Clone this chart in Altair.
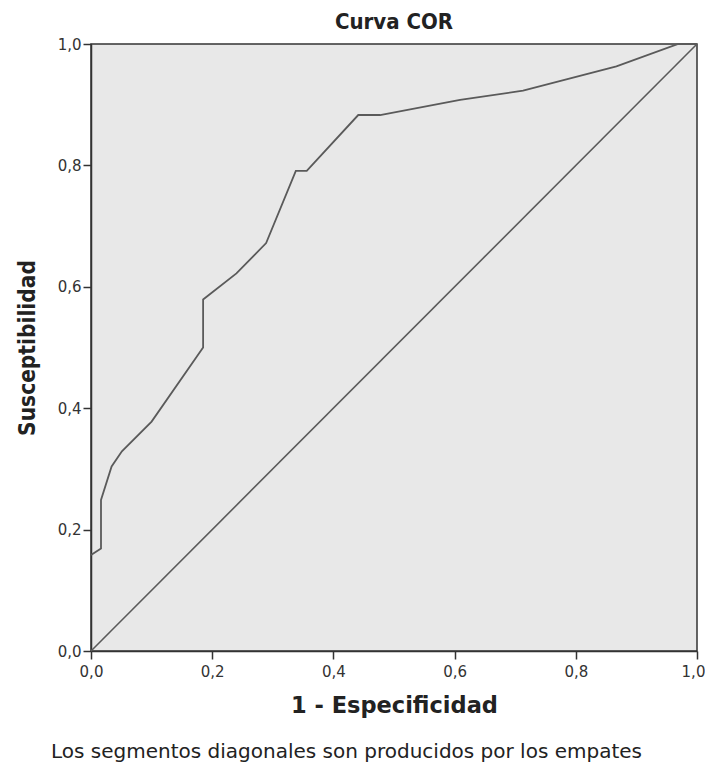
import altair as alt
import pandas as pd

fpr = [0.0, 0.0165, 0.0165, 0.034, 0.051, 0.10, 0.185, 0.185, 0.24, 0.289, 0.338, 0.356, 0.441, 0.477, 0.609, 0.713, 0.867, 0.969, 1.0]
tpr = [0.158, 0.169, 0.249, 0.304, 0.329, 0.378, 0.50, 0.579, 0.622, 0.672, 0.791, 0.791, 0.883, 0.883, 0.908, 0.923, 0.963, 1.0, 1.0]
diag_x = [0.0, 1.0]
diag_y = [0.0, 1.0]
footnote = "Los segmentos diagonales son producidos por los empates"

roc = pd.DataFrame({"x": fpr, "y": tpr, "i": list(range(len(fpr)))})
diag = pd.DataFrame({"x": diag_x, "y": diag_y, "i": [0, 1]})

W, H = 606, 607
lab = "replace(format(datum.value, '.1f'), '.', ',')"

xs = alt.Scale(domain=[0, 1], nice=False)
ys = alt.Scale(domain=[0, 1], nice=False)

xax = alt.Axis(values=[0, 0.2, 0.4, 0.6, 0.8, 1.0], labelExpr=lab, grid=False,
               title="1 - Especificidad", titleFontSize=22.5, titleFont="DejaVu Sans",
               titleFontWeight="bold", titleColor="#222", titlePadding=15,
               labelFont="DejaVu Sans", labelFontSize=15, labelColor="#333",
               labelFlush=False, labelOverlap=False,
               labelOffset=alt.condition("datum.value == 1", alt.value(-4), alt.value(0)),
               domainColor="#333", domainWidth=1.5, tickColor="#333", tickSize=8, tickWidth=1.5,
               labelPadding=5)
yax = alt.Axis(values=[0, 0.2, 0.4, 0.6, 0.8, 1.0], labelExpr=lab, grid=False,
               title="Susceptibilidad", titleFontSize=22.5, titleFont="DejaVu Sans Condensed",
               titleFontWeight="bold", titleColor="#222", titlePadding=18,
               labelFont="DejaVu Sans", labelFontSize=15, labelColor="#333",
               labelFlush=False, labelOverlap=False,
               domainColor="#333", domainWidth=1.5, tickColor="#333", tickSize=8, tickWidth=1.5,
               labelPadding=2)

diag_line = alt.Chart(diag).mark_line(color="#5a5a5a", strokeWidth=1.6).encode(
    x=alt.X("x:Q", scale=xs, axis=xax),
    y=alt.Y("y:Q", scale=ys, axis=yax),
    order="i:Q",
)
roc_line = alt.Chart(roc).mark_line(color="#5a5a5a", strokeWidth=1.8).encode(
    x=alt.X("x:Q", scale=xs),
    y=alt.Y("y:Q", scale=ys),
    order="i:Q",
)
note = alt.Chart(pd.DataFrame({"t": [footnote]})).mark_text(
    align="left", baseline="middle", font="DejaVu Sans", fontSize=20, color="#222"
).encode(text="t:N", x=alt.value(-40), y=alt.value(708))

chart = alt.layer(diag_line, roc_line, note).properties(
    width=W, height=H,
    title=alt.Title("Curva COR", fontSize=22, font="DejaVu Sans Condensed", fontWeight="bold",
                    color="#222", offset=3),
    autosize=alt.AutoSizeParams(type="none"),
    padding={"left": 83, "top": 36, "right": 8, "bottom": 122},
    background="white",
).configure_view(fill="#e8e8e8", stroke="#333", strokeWidth=1.5)

chart.save("out.html", embed_options={"renderer": "svg", "actions": False})
